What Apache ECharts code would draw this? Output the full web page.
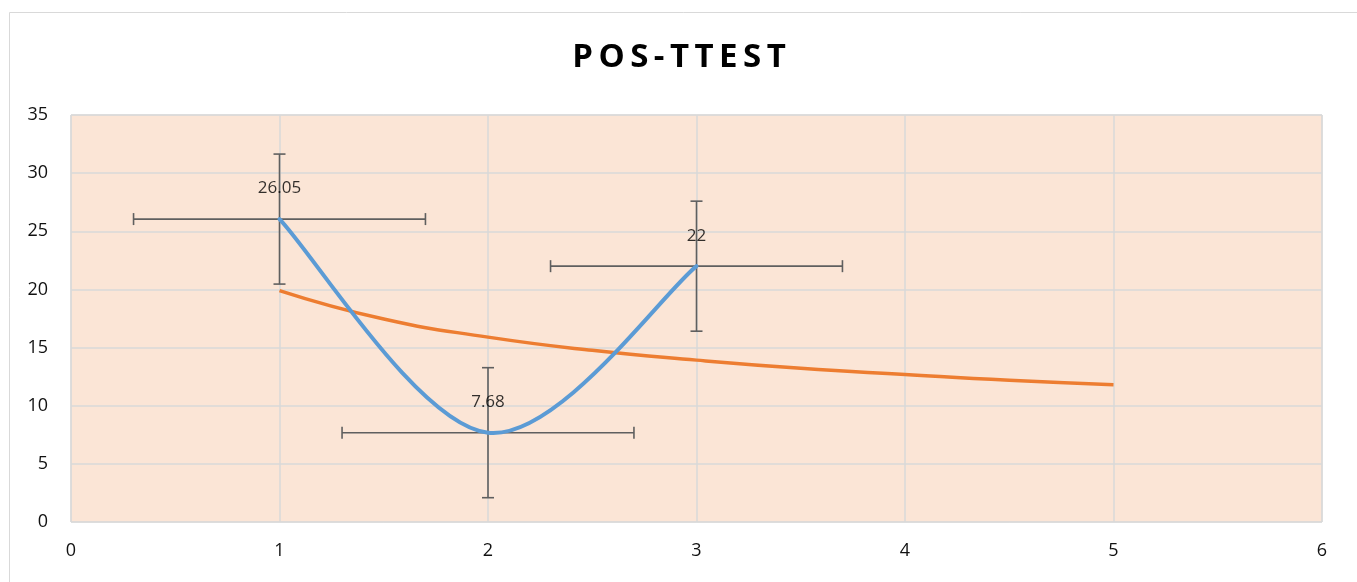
<!DOCTYPE html>
<html>
<head>
<meta charset="utf-8">
<script src="https://cdn.jsdelivr.net/npm/echarts@6/dist/echarts.min.js"></script>
<style>
html,body{margin:0;padding:0;background:#fff;}
#chart{width:1357px;height:582px;}
</style>
</head>
<body>
<div id="chart"></div>
<script>
// Data
const titleText = 'POS-TTEST';
const xValues = [1, 2, 3];
const yValues = [26.05, 7.68, 22];
const xErrors = [0.7, 0.7, 0.7];
const yErrors = [5.59, 5.59, 5.59];
// Trend line (power trend) values
const trendX = [1, 1.5, 2, 2.5, 3, 3.5, 4, 4.5, 5];
const trendY = [19.9, 17.45, 15.9, 14.76, 13.92, 13.22, 12.68, 12.18, 11.8];
const xTicks = [0, 1, 2, 3, 4, 5, 6];
const yTicks = [0, 5, 10, 15, 20, 25, 30, 35];

const mainData = xValues.map((x, i) => [x, yValues[i]]);
const trendData = trendX.map((x, i) => [x, trendY[i]]);
const errData = xValues.map((x, i) => [x, yValues[i], xErrors[i], yErrors[i]]);

const FONT = 'Open Sans';
const chart = echarts.init(document.getElementById('chart'));
chart.setOption({
  animation: false,
  backgroundColor: '#fff',
  graphic: [{
    type: 'rect', left: 7, top: 10, z: -10,
    shape: {width: 1420, height: 620},
    style: {fill: 'none', stroke: '#d9d9d9', lineWidth: 1}
  }],
  title: {
    text: titleText.split('').join('\u2009'),
    left: 674, top: 36, textAlign: 'center',
    textStyle: {fontFamily: FONT, fontWeight: 'bold', fontSize: 33, color: '#000'}
  },
  grid: {
    left: 71, right: 35, top: 115, bottom: 60,
    show: true, backgroundColor: '#FBE5D6', borderColor: '#d9d9d9', borderWidth: 1
  },
  xAxis: {
    type: 'value', min: xTicks[0], max: xTicks[xTicks.length - 1], interval: 1,
    axisLine: {show: false}, axisTick: {show: false},
    splitLine: {show: true, lineStyle: {color: '#d9d9d9', width: 1.5}},
    axisLabel: {fontFamily: FONT, fontSize: 18, color: '#111', margin: 20}
  },
  yAxis: {
    type: 'value', min: yTicks[0], max: yTicks[yTicks.length - 1], interval: 5,
    axisLine: {show: false}, axisTick: {show: false},
    splitLine: {show: true, lineStyle: {color: '#d9d9d9', width: 1.5}},
    axisLabel: {fontFamily: FONT, fontSize: 18, color: '#111', margin: 23}
  },
  series: [
    {
      type: 'custom',
      z: 1,
      renderItem: function (params, api) {
        const x = api.value(0), y = api.value(1), ex = api.value(2), ey = api.value(3);
        const c = api.coord([x, y]);
        const top = api.coord([x, y + ey]);
        const bot = api.coord([x, y - ey]);
        const lft = api.coord([x - ex, y]);
        const rgt = api.coord([x + ex, y]);
        const cap = 6;
        const st = {stroke: '#5f5f5f', lineWidth: 1.6};
        const line = (x1, y1, x2, y2) => ({type: 'line', shape: {x1, y1, x2, y2}, style: st});
        return {
          type: 'group',
          children: [
            line(c[0], top[1], c[0], bot[1]),
            line(c[0] - cap, top[1], c[0] + cap, top[1]),
            line(c[0] - cap, bot[1], c[0] + cap, bot[1]),
            line(lft[0], c[1], rgt[0], c[1]),
            line(lft[0], c[1] - cap, lft[0], c[1] + cap),
            line(rgt[0], c[1] - cap, rgt[0], c[1] + cap)
          ]
        };
      },
      data: errData
    },
    {
      type: 'line', data: trendData, smooth: true, showSymbol: false, z: 2,
      lineStyle: {color: '#ED7D31', width: 3.5}
    },
    {
      // Excel-style smoothed line (Catmull-Rom Bezier through the data points, in pixel space)
      type: 'custom', z: 3,
      renderItem: function (params, api) {
        if (params.dataIndex !== 0) return null;
        const P = mainData.map(d => api.coord(d));
        const n = P.length;
        let d = 'M' + P[0][0] + ' ' + P[0][1];
        for (let i = 0; i < n - 1; i++) {
          const p0 = P[Math.max(i - 1, 0)], p1 = P[i], p2 = P[i + 1], p3 = P[Math.min(i + 2, n - 1)];
          const c1 = [p1[0] + (p2[0] - p0[0]) / 6, p1[1] + (p2[1] - p0[1]) / 6];
          const c2 = [p2[0] - (p3[0] - p1[0]) / 6, p2[1] - (p3[1] - p1[1]) / 6];
          d += ' C' + c1[0] + ' ' + c1[1] + ' ' + c2[0] + ' ' + c2[1] + ' ' + p2[0] + ' ' + p2[1];
        }
        return {
          type: 'path',
          shape: {pathData: d},
          style: {fill: 'none', stroke: '#5B9BD5', lineWidth: 4, lineCap: 'round', lineJoin: 'round'}
        };
      },
      data: mainData
    },
    {
      type: 'scatter', data: mainData, symbolSize: 0, z: 4,
      label: {
        show: true, position: 'top', distance: 22,
        formatter: p => String(p.value[1]),
        fontFamily: FONT, fontSize: 17, color: '#000'
      }
    }
  ]
});
</script>
</body>
</html>
